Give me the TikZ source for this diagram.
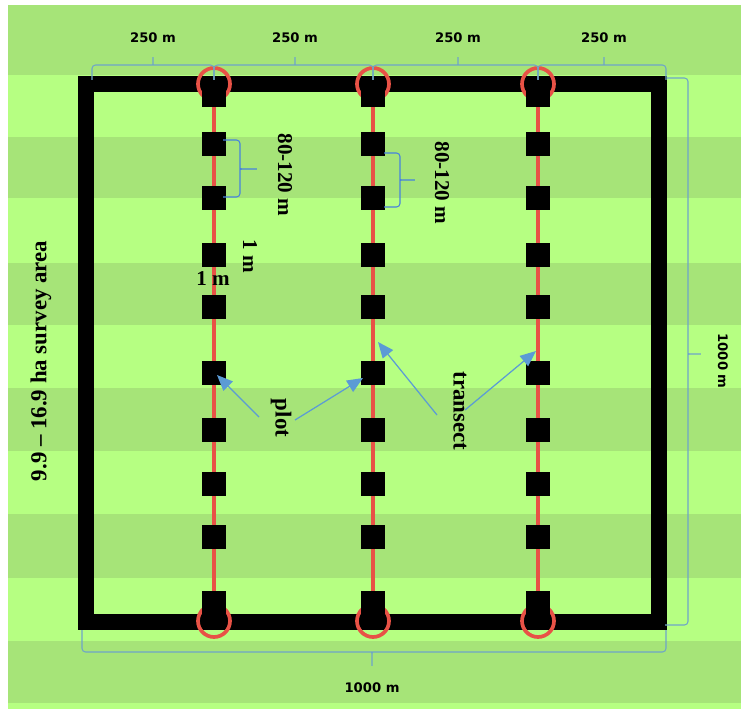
\documentclass[tikz,border=0pt]{standalone}
\usepackage{fontspec}
\setmainfont{Liberation Serif}
\newfontfamily\dimfont{DejaVu Sans}
\usetikzlibrary{arrows.meta}
\definecolor{fieldlight}{RGB}{182,255,130}
\definecolor{fielddark}{RGB}{166,228,120}
\definecolor{transred}{RGB}{232,82,70}
\definecolor{bracegray}{RGB}{110,165,200}
\definecolor{braceblue}{RGB}{70,130,220}
\definecolor{callblue}{RGB}{91,155,213}
\tikzset{
  plotbox/.style={fill=black, minimum width=13.8pt, minimum height=13.5pt, inner sep=0pt},
  dimlabel/.style={font=\dimfont\bfseries\fontsize{7.5}{9}\selectfont, inner sep=0pt},
  biglabel/.style={font=\bfseries\fontsize{13}{15}\selectfont, inner sep=0pt},
  midlabel/.style={font=\bfseries\fontsize{12}{14}\selectfont, inner sep=0pt},
  dimbrace/.style={draw=bracegray, line width=0.6pt, rounded corners=2pt},
  plotbrace/.style={draw=braceblue, line width=0.6pt, rounded corners=2pt},
  callout/.style={draw=callblue, line width=0.7pt, -{Triangle[length=9pt,width=7.5pt]}},
  transline/.style={draw=transred, line width=2.1pt},
}

\begin{document}
\begin{tikzpicture}[x=0.02cm,y=-0.02cm]
    \useasboundingbox (0,0) rectangle (741,713);
    \fill[white] (0,0) rectangle (741,713);
    \fill[fieldlight] (8,5) rectangle (741,709);
    \foreach \a/\b in {5/75,137/198,263/325,388/451,514/578,641/703}
        \fill[fielddark] (8,\a) rectangle (741,\b);
    \coordinate (sw) at (86,622);
    \coordinate (ne) at (659,84);
    \draw[line width=9.1pt] (sw) rectangle (ne);
    \foreach \x [count=\i] in {214,373,538} {
        \coordinate (t\i) at (\x,84);
        \coordinate (b\i) at (\x,621);
        \coordinate (lt\i) at (\x,95);
        \coordinate (lb\i) at (\x,603);
        \draw[transline] (t\i) circle[radius=16];
        \draw[transline] (b\i) circle[radius=16];
        \draw[transline] (lt\i) -- (lb\i);
        \foreach \y [count=\j] in {95,144,198,255,307,373,430,484,537,603}
            \node[plotbox] (p\i-\j) at (\x,\y) {};
    }
    \foreach \a/\m/\b [count=\i] in {92/153/214,214/295/373,373/458/538,538/604/666} {
        \draw[dimbrace] (\a,80) |- (\m-3,65) .. controls (\m,65) .. (\m,55)
            .. controls (\m,65) .. (\m+3,65) -| (\b,80);
        \node[dimlabel] (dim\i) at (\m,38) {250 m};
    }
    \draw[dimbrace] (667,78) -| (688,351) .. controls (688,354) .. (703,354)
        .. controls (688,354) .. (688,357) |- (665,625);
    \node[dimlabel, rotate=-90] (dimr) at (723,361) {1000 m};
    \draw[dimbrace] (82,630) |- (369,652) .. controls (372,652) .. (372,668)
        .. controls (372,652) .. (375,652) -| (666,630);
    \node[dimlabel] (dimb) at (372,688) {1000 m};
    \draw[plotbrace] (223,140) -| (240,166) .. controls (240,169) .. (259,169)
        .. controls (240,169) .. (240,172) |- (223,197);
    \draw[plotbrace] (384,153) -| (400,177) .. controls (400,180) .. (417,180)
        .. controls (400,180) .. (400,183) |- (384,207);
    \node[midlabel, rotate=-90] (gap1) at (285,175) {80-120 m};
    \node[midlabel, rotate=-90] (gap2) at (442,183) {80-120 m};
    \node[midlabel, rotate=-90] (side1) at (250,256) {1 m};
    \node[midlabel] (side2) at (213,279) {1 m};
    \node[biglabel, rotate=90] (area) at (41,361) {9.9 – 16.9 ha survey area};
    \node[biglabel, rotate=-90] (plot) at (281,418) {plot};
    \node[biglabel, rotate=-90] (transect) at (460,411) {transect};
    \coordinate (pa) at (259,417);
    \coordinate (pb) at (295,420);
    \coordinate (ta) at (437,415);
    \coordinate (tb) at (465,410);
    \coordinate (tip1) at (217,375);
    \coordinate (tip2) at (363,378);
    \coordinate (tip3) at (378,342);
    \coordinate (tip4) at (536,351);
    \draw[callout] (pa) -- (tip1);
    \draw[callout] (pb) -- (tip2);
    \draw[callout] (ta) -- (tip3);
    \draw[callout] (tb) -- (tip4);
\end{tikzpicture}
\end{document}
